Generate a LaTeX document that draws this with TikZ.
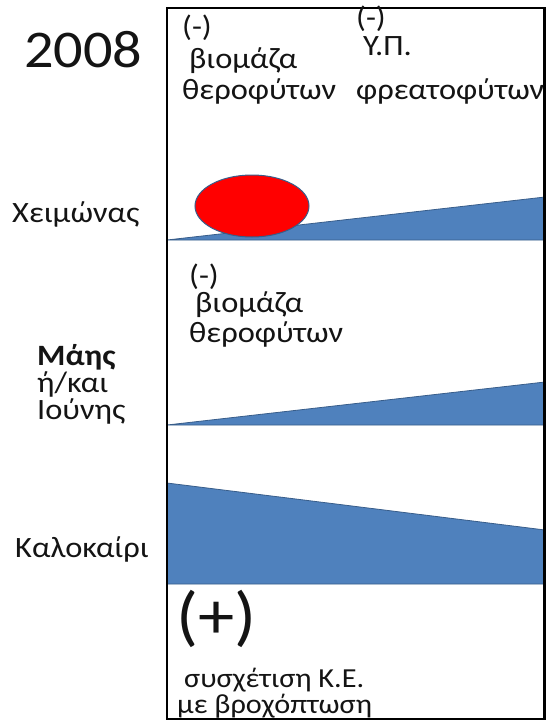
\documentclass[tikz,border=0pt]{standalone}
\usepackage{fontspec}
\setmainfont{Carlito}[FakeStretch=1.1]
\definecolor{ofblue}{HTML}{4F81BD}
\definecolor{ofline}{HTML}{385D8A}
\definecolor{txt}{HTML}{141414}
\tikzset{
  lbl/.style={anchor=base west, inner sep=0pt, text=txt, font=\fontsize{29.5}{32}\selectfont},
  sml/.style={anchor=base west, inner sep=0pt, text=txt, font=\fontsize{27.5}{30}\selectfont},
  big/.style={anchor=base west, inner sep=0pt, text=txt, font=\fontsize{53}{58}\selectfont},
  wedge/.style={fill=ofblue, draw=ofline, line width=0.8pt, line join=round},
  frame/.style={draw=black, line width=2.4pt}
}
\begin{document}
\begin{tikzpicture}[x=1pt,y=-1pt]
\useasboundingbox (0,0) rectangle (546,721);
% shapes
\fill[white] (0,0) rectangle (546,721);
\draw[wedge] (167,240) -- (545,197) -- (545,240) -- cycle;
\draw[fill=red, draw=ofline, line width=1pt] (252,206) ellipse (57 and 31);
\draw[wedge] (167,425) -- (545,382) -- (545,425) -- cycle;
\draw[wedge] (167,483) -- (545,530) -- (545,584) -- (167,584) -- cycle;
\draw[frame] (167,8) rectangle (544.5,719);
% left labels
\node[big] (y2008) at (24,67) {2008};
\node[lbl] (winter) at (12,222) {Χειμώνας};
\node[lbl] (may) at (37,365) {\bfseries Μάης};
\node[lbl] (andor) at (37,392) {ή/και};
\node[lbl] (june) at (37,419) {Ιούνης};
\node[lbl] (summer) at (15,557) {Καλοκαίρι};
% top block left
\node[lbl] (m1) at (182,36) {(-)};
\node[lbl] (b1) at (189,68) {βιομάζα};
\node[lbl] (t1) at (182,99) {θεροφύτων};
% top block right
\begin{scope}
\clip (0,0) rectangle (544,721);
\node[lbl] (m2) at (356,27) {(-)};
\node[lbl] (yp) at (363,55) {Υ.Π.};
\node[lbl] (f2) at (356,99) {φρεατοφύτων};
\end{scope}
% middle block
\node[lbl] (m3) at (189,285) {(-)};
\node[lbl] (b3) at (195,312) {βιομάζα};
\node[lbl] (t3) at (189,342) {θεροφύτων};
% bottom block
\node[big, font=\fontsize{66}{70}\selectfont] (plus) at (176,638) {(+)};
\node[sml] (corr) at (184,687) {συσχέτιση Κ.Ε.};
\node[sml] (rain) at (177,713) {με βροχόπτωση};
\end{tikzpicture}
\end{document}
